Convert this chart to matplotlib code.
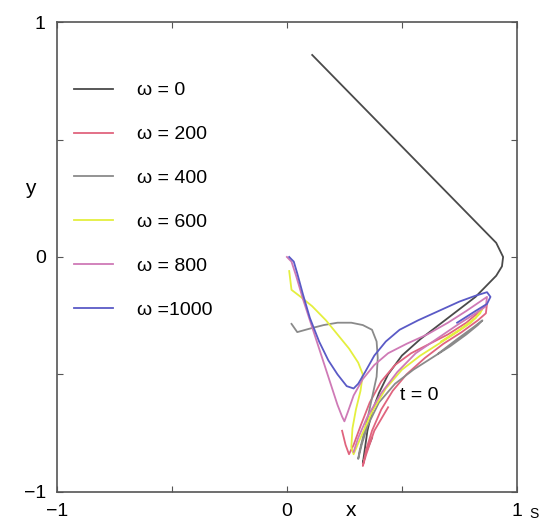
import matplotlib
matplotlib.use("Agg")
import matplotlib.pyplot as plt

plt.rcParams['font.family'] = ['Liberation Sans', 'DejaVu Sans']

omegas = [0, 200, 400, 600, 800, 1000]
colors = ['#4a4a4a', '#e0647e', '#8a8a8a', '#e4ef3e', '#cf7ab6', '#5a5ac6']

# trajectories (x, y)
x_w0 = [0.11, 0.30, 0.50, 0.70, 0.85, 0.91, 0.94, 0.935, 0.91, 0.87, 0.82, 0.74, 0.66, 0.58, 0.50, 0.44, 0.40,
        0.37, 0.35, 0.34, 0.33, 0.345, 0.37]
y_w0 = [0.86, 0.67, 0.47, 0.27, 0.12, 0.06, 0.0, -0.04, -0.08, -0.12, -0.17, -0.23, -0.29, -0.35, -0.42, -0.50,
        -0.58, -0.66, -0.74, -0.81, -0.88, -0.83, -0.77]

x_w200 = [0.24, 0.255, 0.27, 0.29, 0.32, 0.36, 0.41, 0.47, 0.54, 0.62, 0.70, 0.78, 0.84, 0.87, 0.865, 0.83, 0.76,
          0.68, 0.60, 0.52, 0.46, 0.41, 0.37, 0.345, 0.33, 0.345, 0.38, 0.44]
y_w200 = [-0.74, -0.80, -0.84, -0.80, -0.72, -0.62, -0.53, -0.46, -0.41, -0.37, -0.33, -0.28, -0.23, -0.20, -0.24,
          -0.27, -0.32, -0.37, -0.43, -0.50, -0.57, -0.65, -0.74, -0.82, -0.89, -0.84, -0.74, -0.64]

x_w400 = [0.02, 0.045, 0.10, 0.16, 0.22, 0.28, 0.33, 0.37, 0.39, 0.395, 0.39, 0.37, 0.35, 0.33, 0.315, 0.31,
          0.325, 0.35, 0.40, 0.47, 0.55, 0.63, 0.71, 0.78, 0.83, 0.85, 0.81, 0.74, 0.66]
y_w400 = [-0.285, -0.32, -0.305, -0.29, -0.28, -0.28, -0.29, -0.31, -0.36, -0.43, -0.51, -0.60, -0.69, -0.77,
          -0.83, -0.86, -0.80, -0.72, -0.62, -0.54, -0.48, -0.43, -0.38, -0.33, -0.29, -0.27, -0.30, -0.35, -0.41]

x_w600 = [0.01, 0.02, 0.06, 0.11, 0.17, 0.22, 0.27, 0.31, 0.33, 0.32, 0.30, 0.285, 0.28, 0.29, 0.32, 0.37,
          0.43, 0.50, 0.58, 0.66, 0.74, 0.80, 0.84, 0.85, 0.82, 0.75, 0.67]
y_w600 = [-0.06, -0.14, -0.17, -0.21, -0.27, -0.33, -0.39, -0.45, -0.50, -0.57, -0.65, -0.73, -0.81, -0.84,
          -0.77, -0.66, -0.56, -0.48, -0.42, -0.37, -0.32, -0.28, -0.24, -0.22, -0.26, -0.31, -0.36]

x_w800 = [0.0, 0.02, 0.04, 0.07, 0.11, 0.15, 0.19, 0.22, 0.24, 0.25, 0.265, 0.29, 0.33, 0.38, 0.44, 0.52, 0.61,
          0.70, 0.78, 0.84, 0.87, 0.865, 0.82, 0.74, 0.65, 0.56, 0.48, 0.41, 0.35, 0.31, 0.29]
y_w800 = [0.0, -0.02, -0.08, -0.18, -0.30, -0.42, -0.54, -0.63, -0.68, -0.70, -0.66, -0.59, -0.52, -0.46,
          -0.41, -0.37, -0.33, -0.28, -0.23, -0.19, -0.17, -0.21, -0.24, -0.29, -0.35, -0.41, -0.49, -0.58,
          -0.68, -0.77, -0.83]

x_w1000 = [0.01, 0.03, 0.045, 0.07, 0.10, 0.14, 0.18, 0.22, 0.26, 0.29, 0.31, 0.34, 0.38, 0.43, 0.49, 0.57,
           0.66, 0.75, 0.82, 0.87, 0.885, 0.87, 0.82, 0.74]
y_w1000 = [0.0, -0.02, -0.07, -0.16, -0.26, -0.36, -0.44, -0.50, -0.55, -0.56, -0.54, -0.49, -0.42, -0.36,
           -0.31, -0.27, -0.23, -0.19, -0.165, -0.15, -0.17, -0.20, -0.23, -0.28]

xs = [x_w0, x_w200, x_w400, x_w600, x_w800, x_w1000]
ys = [y_w0, y_w200, y_w400, y_w600, y_w800, y_w1000]

fig = plt.figure(figsize=(5.47, 5.26), dpi=100)
ax = fig.add_axes([0.104, 0.065, 0.841, 0.893])

for w, c, x, y in zip(omegas, colors, xs, ys):
    lab = '\u03c9 =%d' % w if w == 1000 else '\u03c9 = %d' % w
    ax.plot(x, y, color=c, lw=1.3, label=lab)

ax.set_xlim(-1, 1)
ax.set_ylim(-1, 1)
ax.set_xticks([-1, -0.5, 0, 0.5, 1])
ax.set_yticks([-1, -0.5, 0, 0.5, 1])
ax.set_xticklabels(['\u22121', '', '0', '', '1'], fontsize=14)
ax.set_yticklabels(['\u22121', '', '0', '', '1'], fontsize=14)
ax.tick_params(direction='in', top=True, right=True, length=4, color='#555555', pad=8)
for s in ax.spines.values():
    s.set_color('#555555')
    s.set_linewidth(1.2)

ax.text(0.28, -1.04, 'x', fontsize=15, ha='center', va='top')
ax.text(1.055, -1.125, 'S', fontsize=10, ha='left', va='bottom')
ax.text(-1.115, 0.29, 'y', fontsize=15, ha='center', va='center')
ax.text(0.49, -0.59, 't = 0', fontsize=14, ha='left', va='center')

ax.legend(loc='upper left', bbox_to_anchor=(0.0, 0.91), frameon=False, fontsize=14,
          handlelength=2.0, handletextpad=1.2, labelspacing=1.35)

fig.savefig('out.png', dpi=100)
